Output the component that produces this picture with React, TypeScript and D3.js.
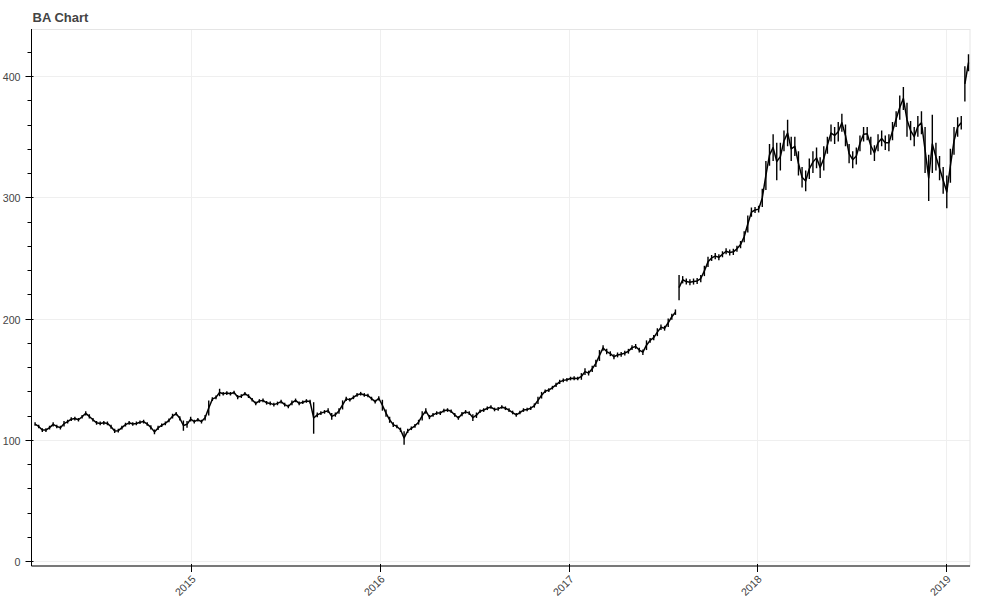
import React from 'react';
import * as d3 from 'd3';

const title = 'BA Chart';
const firstWeek = '2014-03-03';
const yMajorTicks = [0, 100, 200, 300, 400];
const yMinorTicks = [20, 40, 60, 80, 120, 140, 160, 180, 220, 240, 260, 280, 320, 340, 360, 380, 420];
const xTickYears = ['2015', '2016', '2017', '2018', '2019'];
// weeks that open with a price gap (earnings jumps)
const priceGapWeeks = [178, 257];

const weeklyLows = [
  111.5, 109.5, 106.5, 106.5, 108.5, 111, 109.5, 108.5, 111, 113.5,
  115.5, 116, 115, 117.5, 120, 117.5, 115, 112.5, 112, 112.5,
  112, 109, 105.5, 106, 108.5, 111, 112.5, 111.5, 112, 113,
  113.5, 111.5, 108.5, 104.5, 108, 110.5, 112, 114.5, 117.5, 120,
  116, 107.5, 110, 115, 113.5, 115, 113.5, 116, 120, 132,
  133.5, 136, 136.5, 137, 136.5, 137.5, 133.5, 134.5, 136.5, 134.5,
  131.5, 128.5, 130.5, 131, 129, 128.5, 127.5, 128.5, 130, 127.5,
  126, 128.5, 131, 128.5, 129.5, 130.5, 130, 105, 118.5, 120.5,
  121.5, 122, 116.5, 119, 121.5, 125, 132, 131.5, 133.5, 135.5,
  136.5, 135.5, 135, 132.5, 130, 132.5, 124, 119, 114, 110.5,
  109.5, 106.5, 96, 105.5, 108, 110, 112.5, 116, 121.5, 117,
  119, 120.5, 120.5, 122.5, 123, 122, 119, 116.5, 119.5, 121.5,
  120.5, 115.5, 118, 122, 123, 124.5, 125.5, 123.5, 124, 125.5,
  124.5, 123, 121, 119, 121, 123, 123.5, 124.5, 126.5, 129.5,
  134, 138.5, 139.5, 141.5, 143.5, 146, 147.5, 148, 149, 149,
  149, 149.5, 153.5, 153, 156, 160, 165, 173.5, 170.5, 169,
  166.5, 168, 168.5, 169.5, 171, 174, 175, 172, 170, 174,
  180, 182, 185.5, 190.5, 190, 193, 199, 203, 215, 229,
  228, 227.5, 228, 228.5, 230, 235, 242.5, 247.5, 249, 248,
  250.5, 253, 252, 252.5, 255, 258, 263, 271, 284, 287,
  287.5, 292, 306, 326, 330, 314, 322, 338, 342, 330,
  334, 318, 308, 305, 315, 320, 324, 316, 322, 336,
  346, 344, 346, 354, 342, 328, 324, 327, 338, 346,
  347, 335, 330, 338, 342, 339, 338, 347, 358, 364,
  372, 350, 347, 342, 350, 352, 320, 297, 320, 322,
  314, 303, 291, 312, 335, 350, 356, 379, 404,
];

const weeklyHighs = [
  114.5, 112.5, 109.5, 109.5, 111.5, 114.5, 112.5, 111.5, 115.5, 116.5,
  118.5, 119, 118, 120.5, 123.5, 121, 118, 115.5, 115, 115.5,
  115, 112.5, 109, 109, 111.5, 114, 115.5, 114.5, 115, 116,
  116.5, 114.5, 112, 108.5, 111.5, 113.5, 115, 117.5, 121.5, 123,
  119.5, 116, 115.5, 119, 116.5, 118, 116.5, 120.5, 132.5, 135,
  136.5, 142, 139.5, 140, 139.5, 140.5, 137, 137.5, 139.5, 137.5,
  134.5, 131.5, 133.5, 134, 132, 131.5, 130.5, 131.5, 133, 130.5,
  129, 132.5, 134, 131.5, 132.5, 133.5, 133, 131, 122.5, 123.5,
  124.5, 126, 122, 122.5, 126, 132.5, 135.5, 134.5, 136.5, 138.5,
  139.5, 138.5, 138, 135.5, 133, 136, 133, 125, 119, 114.5,
  112.5, 110, 107, 109, 111, 113, 116.5, 123.5, 126, 120.5,
  122, 123.5, 123.5, 125.5, 126, 125, 122, 119.5, 123, 124.5,
  123.5, 121, 122.5, 125, 126, 127.5, 128.5, 126.5, 127, 128.5,
  127.5, 126, 124, 122, 124, 126, 126.5, 127.5, 130, 135.5,
  139.5, 141.5, 142.5, 144.5, 147, 149.5, 150.5, 151, 152, 152.5,
  152, 155, 159, 157, 161, 166, 174, 178, 175, 173,
  170.5, 172, 172.5, 173.5, 175, 178, 179, 176, 174.5, 182,
  184, 186.5, 192, 195, 194, 200, 204, 207.5, 236, 235,
  233, 232.5, 233, 233.5, 236, 243.5, 251, 252.5, 254, 253,
  255.5, 258, 257, 257.5, 260, 264, 272, 285, 291.5, 292,
  293, 307, 330, 344, 352, 345, 345, 355, 364, 350,
  350, 338, 325, 322, 332, 338, 341, 333, 342, 350,
  360, 358, 362, 369, 360, 344, 338, 341, 351, 358,
  358, 350, 343, 352, 355, 351, 352, 362, 371, 384,
  391, 378, 363, 358, 367, 371, 358, 335, 368, 345,
  334, 325, 318, 340, 358, 366, 367, 408, 418,
];

const FONT = 'Liberation Sans, Arial, Helvetica, sans-serif';

export default function App() {
  const W = 1000;
  const H = 600;
  const left = 31.5;
  const right = 970;
  const top = 29.5;
  const bottom = 566;

  const x = d3
    .scaleUtc()
    .domain([new Date(Date.UTC(2014, 1, 26, 14)), new Date(Date.UTC(2019, 1, 16, 10))])
    .range([left, right]);
  const y = d3.scaleLinear().domain([-4.1, 438.8]).range([bottom, 29]);

  const start = new Date(firstWeek + 'T00:00:00Z');
  const weeks = weeklyLows.map((lo, i) => ({
    t: d3.utcHour.offset(d3.utcDay.offset(start, 7 * i), 60),
    lo,
    hi: weeklyHighs[i],
  }));

  const segments: { t: Date; v: number }[][] = [];
  let cur: { t: Date; v: number }[] = [];
  weeks.forEach((w, i) => {
    if (priceGapWeeks.includes(i)) {
      segments.push(cur);
      cur = [];
    }
    cur.push({ t: w.t, v: (w.lo + w.hi) / 2 });
  });
  segments.push(cur);

  const line = d3
    .line<{ t: Date; v: number }>()
    .x((d) => x(d.t))
    .y((d) => y(d.v));

  const gridColor = '#efefef';
  const textColor = '#444444';

  return (
    <svg
      width={W}
      height={H}
      style={{ position: 'absolute', left: 0, top: 0, background: '#fff' }}
      fontFamily={FONT}
    >
      <defs>
        <clipPath id="plot-clip">
          <rect x={left} y={top} width={right - left} height={bottom - top} />
        </clipPath>
      </defs>
      <rect x={0} y={0} width={W} height={H} fill="#fff" />
      {xTickYears.map((yr) => {
        const px = Math.round(x(new Date(yr + '-01-01T00:00:00Z'))) + 0.5;
        return <line key={'gx' + yr} x1={px} x2={px} y1={top} y2={bottom} stroke={gridColor} />;
      })}
      {yMajorTicks.map((v) => {
        const py = Math.round(y(v)) + 0.5;
        return <line key={'gy' + v} x1={left} x2={right} y1={py} y2={py} stroke={gridColor} />;
      })}
      <rect x={left} y={top} width={right - left} height={bottom - top} fill="none" stroke="#e5e5e5" />
      <g clipPath="url(#plot-clip)" stroke="#000" fill="none">
        {weeks.map((w, i) => {
          const px = x(w.t);
          return <line key={i} x1={px} x2={px} y1={y(w.hi)} y2={y(w.lo)} strokeWidth={1.4} />;
        })}
        {segments.map((s, i) => (
          <path key={'s' + i} d={line(s) || ''} strokeWidth={1.5} strokeLinejoin="round" />
        ))}
      </g>
      <line x1={left} x2={left} y1={top - 0.5} y2={bottom} stroke="#000" />
      <line x1={left} x2={right} y1={bottom} y2={bottom} stroke="#000" />
      {yMajorTicks.map((v) => {
        const py = Math.round(y(v)) + 0.5;
        return (
          <g key={'ty' + v}>
            <line x1={left - 6} x2={left + 2} y1={py} y2={py} stroke="#000" />
            <text
              x={left - 11}
              y={py}
              textAnchor="end"
              dominantBaseline="central"
              fontSize={10.67}
              fill={textColor}
            >
              {v}
            </text>
          </g>
        );
      })}
      {yMinorTicks.map((v) => {
        const py = Math.round(y(v)) + 0.5;
        return <line key={'my' + v} x1={left - 4} x2={left} y1={py} y2={py} stroke="#000" />;
      })}
      {xTickYears.map((yr) => {
        const px = Math.round(x(new Date(yr + '-01-01T00:00:00Z'))) + 0.5;
        return (
          <g key={'tx' + yr}>
            <line x1={px} x2={px} y1={bottom - 2} y2={bottom + 6} stroke="#000" />
            <text
              transform={`translate(${px + 2},${bottom + 11}) rotate(-45)`}
              textAnchor="end"
              dominantBaseline="central"
              fontSize={10.67}
              fill={textColor}
            >
              {yr}
            </text>
          </g>
        );
      })}
      <text x={32.5} y={22} fontSize={13} fontWeight="bold" fill={textColor}>
        {title}
      </text>
    </svg>
  );
}
